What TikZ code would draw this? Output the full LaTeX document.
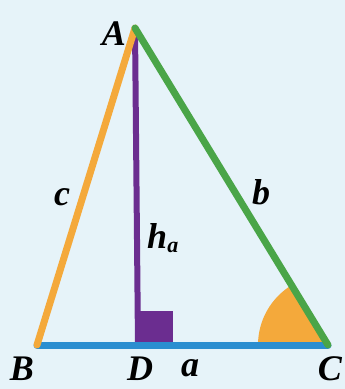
\documentclass[tikz,border=0pt]{standalone}
\usepackage{fontspec}
\setmainfont{Liberation Serif}
\definecolor{bgc}{HTML}{E6F3F9}
\definecolor{orn}{HTML}{F4A93B}
\definecolor{grn}{HTML}{4AA548}
\definecolor{blu}{HTML}{2B8ED0}
\definecolor{pur}{HTML}{6B2D90}
\tikzset{
  lbl/.style={font=\fontsize{36}{40}\selectfont\bfseries\itshape, inner sep=0pt},
  side/.style={line width=7pt, line cap=round},
}
\begin{document}
\begin{tikzpicture}[x=1pt,y=-1pt]
\fill[bgc] (0,0) rectangle (345,389);
\useasboundingbox (0,0) rectangle (345,389);
\coordinate (A) at (135,28);
\coordinate (B) at (37,345);
\coordinate (C) at (328,345);
\coordinate (D) at (138,345);
% angle at C
\fill[orn] (C) -- ++(180:70) arc[start angle=180, end angle=238.7, radius=70] -- cycle;
% right angle mark
\fill[pur] (D) rectangle (173,311);
\draw[pur, line width=6pt] (A) -- (D);
\draw[side, blu] (B) -- (C);
\draw[side, orn] (B) -- (A);
\draw[side, grn] (C) -- (A);
\node[lbl] (lA) at (114,34) {A};
\node[lbl] (lB) at (22,369) {B};
\node[lbl] (lD) at (140,369) {D};
\node[lbl] (la) at (190,368) {a};
\node[lbl] (lC) at (330,369) {C};
\node[lbl] (lc) at (62,197) {c};
\node[lbl] (lb) at (261,192) {b};
\node[lbl] (lh) at (163,238) {h\textsubscript{\fontsize{22}{24}\selectfont a}};
\end{tikzpicture}
\end{document}
